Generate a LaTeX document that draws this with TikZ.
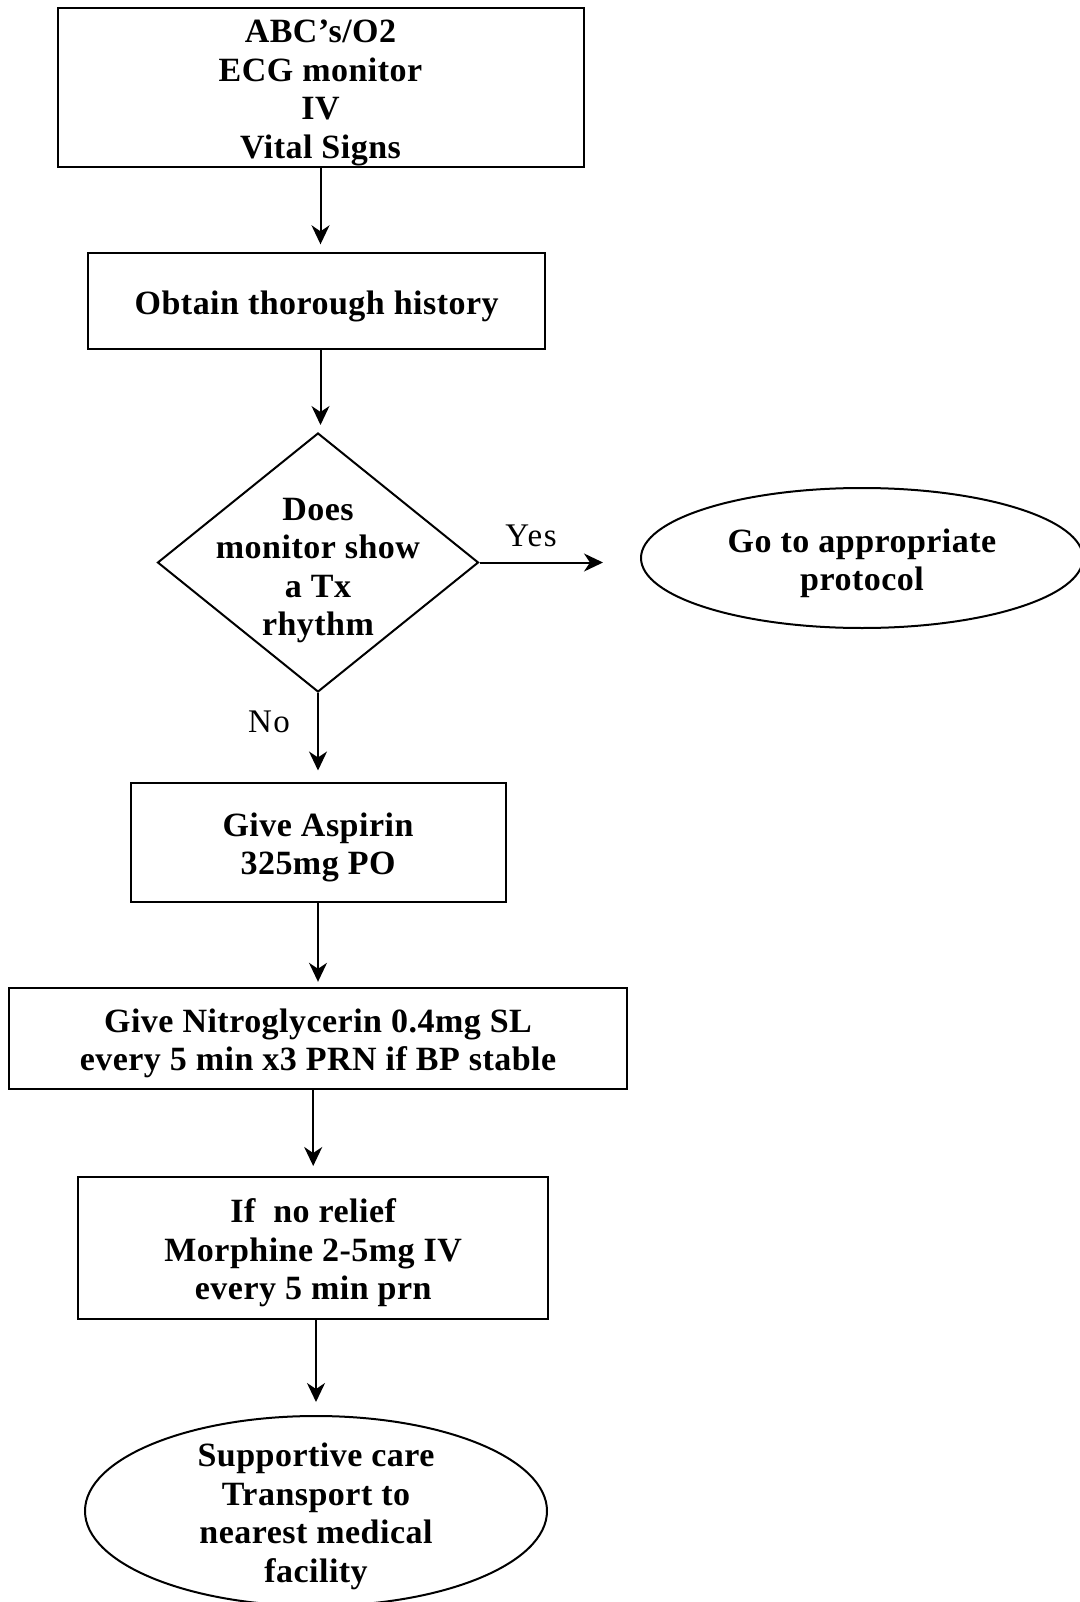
\documentclass[tikz,border=0pt]{standalone}
\usepackage{fontspec}
\setmainfont{Liberation Serif}
\newfontfamily\labelfont{Liberation Serif}[LetterSpace=1.4]
\newfontfamily\answerfont{Liberation Serif}[LetterSpace=5]
\usetikzlibrary{shapes.geometric,arrows.meta,calc}
% taller first line, so that the text block sits on its cap line
\newcommand\toppad{\rule{0pt}{34pt}}
\begin{document}
\begin{tikzpicture}[x=1pt,y=-1pt,
  every node/.style={font=\labelfont\fontsize{34}{38.5}\selectfont\bfseries, align=center},
  stepbox/.style={draw, line width=2pt, rectangle, inner sep=0pt},
  decision/.style={draw, line width=2pt, diamond, inner sep=0pt,
    minimum width=321pt, minimum height=259pt},
  terminal/.style={draw, line width=2pt, ellipse, inner sep=0pt},
  arr/.style={line width=2pt, -{Stealth[length=19pt,width=18pt,inset=6pt]}},
  answer/.style={font=\answerfont\fontsize{33}{38}\selectfont, anchor=base}
]
\useasboundingbox (0,0) rectangle (1079,1602);

% process steps
\node[stepbox, minimum width=526pt, minimum height=159pt] (b1) at (320.5,87.5)
  {\toppad ABC’s/O2\\ECG monitor\\IV\\Vital Signs};
\node[stepbox, minimum width=457pt, minimum height=96pt] (b2) at (316.7,301.3)
  {\toppad Obtain thorough history};

% decision
\node[decision] (dec) at (318,562.5) {};
\node (dectext) at ($(dec.center)+(0,2)$) {\toppad Does\\monitor show\\a Tx\\rhythm};

\node[terminal, minimum width=442pt, minimum height=140pt] (proto) at (862,558)
  {\toppad Go to appropriate\\protocol};

\node[stepbox, minimum width=375pt, minimum height=119pt] (b3) at (318,842)
  {\toppad Give Aspirin\\325mg PO};
\node[stepbox, minimum width=618pt, minimum height=101pt] (b4) at (318,1038.3)
  {\toppad Give Nitroglycerin 0.4mg SL\\every 5 min x3 PRN if BP stable};
\node[stepbox, minimum width=470pt, minimum height=142pt] (b5) at (313.2,1248)
  {\toppad If\ \ no relief\\Morphine 2-5mg IV\\every 5 min prn};

\node[terminal, minimum width=462pt, minimum height=190pt] (care) at (316,1511) {};
\node (caretext) at (care.center) {\toppad Supportive care\\Transport to\\nearest medical\\facility};

% answers
\node[answer] (yes) at (531,546.7) {Yes};
\node[answer] (no) at (269,732) {No};

% connectors
\draw[arr] (b1.south) -- ($(b1.south |- b2.north)+(0,-8)$);
\draw[arr] (b2.south -| b1.south) -- ($(b1.south |- dec.north)+(0,-7)$);
\draw[arr] (dec.east) -- ($(dec.east -| proto.west)+(-37,0)$);
\draw[arr] (dec.south) -- ($(dec.south |- b3.north)+(0,-11)$);
\draw[arr] (b3.south) -- ($(b3.south |- b4.north)+(0,-5)$);
\draw[arr] (b4.south -| b5.north) -- ($(b5.north)+(0,-10)$);
\draw[arr] (b5.south -| care.north) -- ($(care.north)+(0,-13)$);
\end{tikzpicture}
\end{document}
